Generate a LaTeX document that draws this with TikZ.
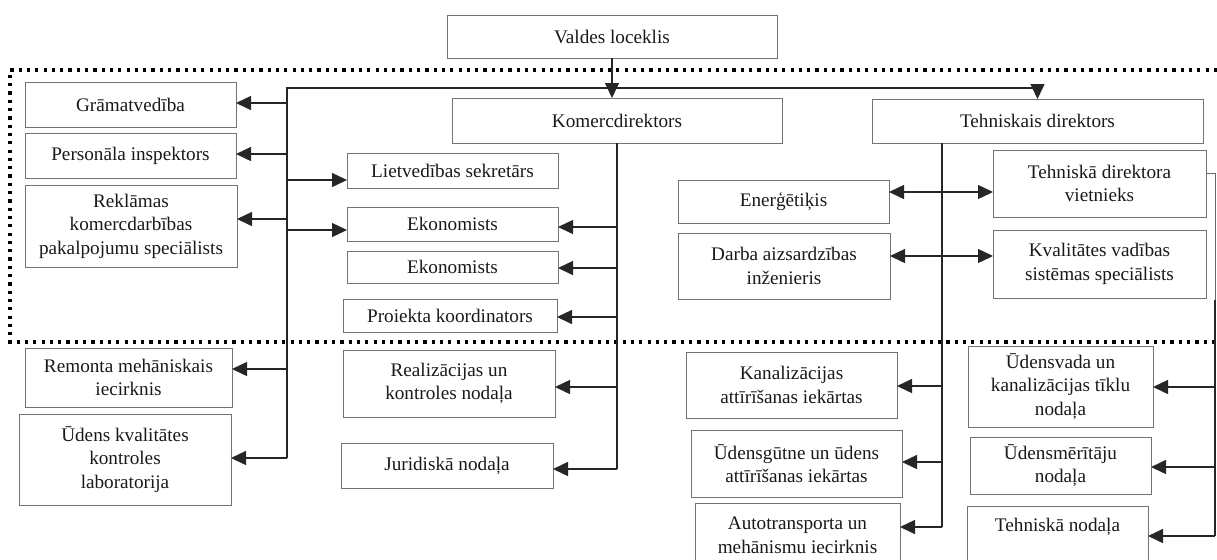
\documentclass[tikz,border=0pt]{standalone}
\usepackage{fontspec}
\setmainfont{Liberation Serif}
\usetikzlibrary{arrows.meta}
\tikzset{
  box/.style={draw=black!55, line width=0.5pt, inner sep=0pt, outer sep=0pt, align=center,
    font=\fontsize{9.6}{11.8}\selectfont, text=black!90},
  tip/.style={Triangle[length=7.5pt,width=7pt]},
  arr/.style={-{Triangle[length=7.5pt,width=7pt]}, line width=0.7pt, draw=black!85, fill=black!85},
  dbl/.style={{Triangle[length=7.5pt,width=7pt]}-{Triangle[length=7.5pt,width=7pt]}, line width=0.7pt, draw=black!85, fill=black!85},
  ln/.style={line width=0.7pt, draw=black!85},
  frame/.style={line width=1.6pt, dash pattern=on 1.6pt off 2.55pt},
}
\newcommand\obox[6]{%
  \node[box, minimum width={(#4-#2)*0.5pt}, minimum height={(#5-#3)*0.5pt}] (#1)
    at ({(#2+#4)/2},{(#3+#5)/2}) {#6};}
\begin{document}
\begin{tikzpicture}[x=0.5pt,y=-0.5pt]
\useasboundingbox (0,0) rectangle (1217,559);
% frame
\draw[frame] (1217,70) -- (10,70) -- (10,342) -- (1217,342);
% boxes
\obox{valdes}{447}{15}{777}{58}{Valdes loceklis}
\obox{komerc}{452}{98}{782}{143}{Komercdirektors}
\obox{tehn}{872}{99}{1203}{143}{Tehniskais direktors}
\obox{gram}{25}{82}{236}{127}{Grāmatvedība}
\obox{pers}{25}{133}{236}{178}{Personāla inspektors}
\obox{rekl}{25}{185}{237}{267}{Reklāmas\\komercdarbības\\pakalpojumu speciālists}
\obox{remont}{25}{348}{232}{407}{Remonta mehāniskais\\iecirknis}
\obox{udkval}{19}{414}{231}{505}{Ūdens kvalitātes\\kontroles\\laboratorija}
\obox{lietv}{347}{153}{558}{188}{Lietvedības sekretārs}
\obox{ekonA}{347}{207}{558}{241}{Ekonomists}
\obox{ekonB}{347}{251}{558}{283}{Ekonomists}
\obox{proj}{343}{299}{557}{332}{Proiekta koordinators}
\obox{realiz}{343}{350}{555}{417}{Realizācijas un\\kontroles nodaļa}
\obox{jurid}{341}{443}{553}{488}{Juridiskā nodaļa}
\obox{energ}{678}{180}{889}{223}{Enerģētiķis}
\obox{darba}{678}{233}{890}{299}{Darba aizsardzības\\inženieris}
\obox{vietn}{993}{150}{1206}{217}{Tehniskā direktora\\vietnieks}
\obox{kval}{993}{230}{1206}{298}{Kvalitātes vadības\\sistēmas speciālists}
\obox{kanal}{686}{352}{897}{418}{Kanalizācijas\\attīrīšanas iekārtas}
\obox{udensg}{691}{430}{902}{497}{Ūdensgūtne un ūdens\\attīrīšanas iekārtas}
\obox{autotr}{695}{503}{900}{567}{Autotransporta un\\mehānismu iecirknis}
\obox{udensv}{968}{346}{1153}{427}{Ūdensvada un\\kanalizācijas tīklu\\nodaļa}
\obox{udensm}{970}{437}{1151}{494}{Ūdensmērītāju\\nodaļa}
\node[box, minimum width={181*0.5pt}, minimum height={74*0.5pt},
  label={[anchor=center, yshift=-10.5pt, font=\fontsize{9.6}{11.8}\selectfont, text=black!90]north:Tehniskā nodaļa}]
  (tnod) at ({(967+1148)/2},{(506+580)/2}) {};
% top connectors
\coordinate (lb) at (287,88);
\coordinate (lbe) at (287,458);
\draw[arr] (valdes.south) -- (valdes.south |- komerc.north);
\draw[ln] (lbe) -- (lb) -- (tehn.north |- lb);
\draw[arr] (tehn.north |- lb) -- (tehn.north);
% left bus
\draw[arr] (lb |- 0,103) -- (gram.east |- 0,103);
\draw[arr] (lb |- 0,154) -- (pers.east |- 0,154);
\draw[arr] (lb |- 0,219) -- (rekl.east |- 0,219);
\draw[arr] (lb |- 0,180) -- (lietv.west |- 0,180);
\draw[arr] (lb |- 0,230) -- (ekonA.west |- 0,230);
\draw[arr] (lb |- 0,369) -- (remont.east |- 0,369);
\draw[arr] (lbe) -- (udkval.east |- lbe);
% komerc bus
\coordinate (kb) at (617,469);
\draw[ln] (komerc.south) -- (kb);
\draw[arr] (kb |- 0,227) -- (ekonA.east |- 0,227);
\draw[arr] (kb |- 0,268) -- (ekonB.east |- 0,268);
\draw[arr] (kb |- 0,317) -- (proj.east |- 0,317);
\draw[arr] (kb |- 0,387) -- (realiz.east |- 0,387);
\draw[arr] (kb) -- (jurid.east |- kb);
% tehn bus
\coordinate (tbt) at (tehn.south -| 942,0);
\coordinate (tbb) at (942,527);
\draw[ln] (tbt) -- (tbb);
\draw[arr] (tbb |- 0,386) -- (kanal.east |- 0,386);
\draw[arr] (tbb |- 0,462) -- (udensg.east |- 0,462);
\draw[arr] (tbb) -- (autotr.east |- tbb);
\draw[dbl] (energ.east |- 0,192) -- (vietn.west |- 0,192);
\draw[dbl] (darba.east |- 0,256) -- (kval.west |- 0,256);
% right bus
\coordinate (rbt) at (1215,173);
\coordinate (rbb) at (1215,536);
\draw[ln, line width=0.4pt, draw=black!60] (vietn.east |- rbt) -- (rbt) -- (1215,300);
\draw[ln] (1215,300) -- (rbb);
\draw[arr] (rbb |- 0,387) -- (udensv.east |- 0,387);
\draw[arr] (rbb |- 0,467) -- (udensm.east |- 0,467);
\draw[arr] (rbb) -- (tnod.east |- rbb);
\end{tikzpicture}
\end{document}
